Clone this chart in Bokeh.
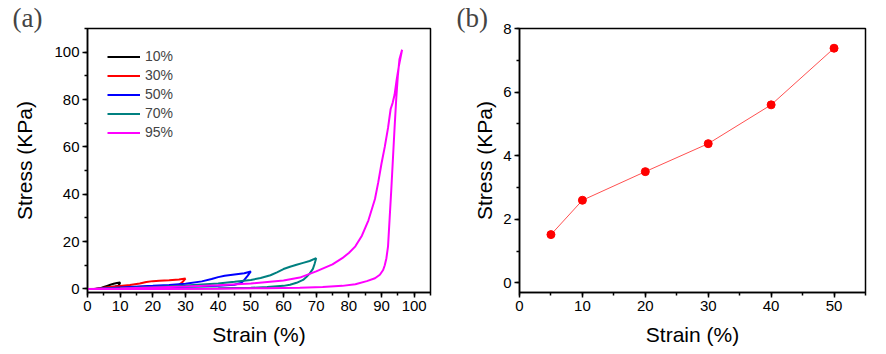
from bokeh.plotting import figure
from bokeh.layouts import row
from bokeh.models import SingleIntervalTicker, Range1d, Legend, LegendItem
from bokeh.embed import file_html
from bokeh.resources import INLINE

# ---- Panel (a): hysteresis loops ----
s10_x = [2.5, 4, 5, 6, 7, 8, 9, 10, 9.7, 9.3, 8.5, 7.5, 6.5, 5.5, 4.5, 3.5, 2.5]
s10_y = [0, 0.3, 0.8, 1.3, 1.8, 2.2, 2.5, 2.7, 1.8, 1.3, 1.0, 0.8, 0.6, 0.4, 0.25, 0.1, 0]

s30_x = [2, 5, 10, 13, 16, 18, 20, 22, 25, 28, 30, 29, 28, 25, 20, 15, 10, 5, 2]
s30_y = [0, 0.5, 1.3, 1.7, 2.3, 2.9, 3.3, 3.5, 3.7, 4.0, 4.4, 2.8, 1.8, 1.4, 1.1, 0.8, 0.5, 0.2, 0]

s50_x = [2, 10, 20, 25, 30, 35, 38, 40, 42, 45, 48, 50, 49, 48, 47, 45, 40, 30, 20, 10, 2]
s50_y = [0, 0.6, 1.3, 1.7, 2.2, 3.2, 4.2, 5.0, 5.6, 6.1, 6.6, 7.4, 5.5, 3.8, 2.5, 1.8, 1.3, 0.9, 0.5, 0.2, 0]

s70_x = [2, 10, 20, 30, 40, 45, 50, 53, 56, 58, 60, 62, 64, 66, 68, 70,
         69.5, 69, 68, 67, 66, 64, 62, 60, 55, 50, 40, 30, 20, 10, 2]
s70_y = [0, 0.3, 0.8, 1.5, 2.3, 3.0, 3.8, 4.6, 5.8, 7.0, 8.4, 9.4, 10.2, 11.0, 11.8, 13.0,
         10.5, 8.5, 6.5, 5.0, 3.8, 2.6, 1.8, 1.3, 0.8, 0.5, 0.3, 0.15, 0.05, 0, 0]

s95_x = [0, 10, 20, 30, 40, 50, 60, 65, 70, 75, 78, 80, 82, 84, 86, 88, 89, 90, 91, 92,
         92.8, 93.4, 94, 94.6, 95.3, 96.3,
         95.5, 95, 94.5, 94, 93.5, 93, 92.5, 92, 91.5, 91, 90.5, 89.5, 88, 85.5, 82, 78,
         72, 65, 55, 40, 20, 0]
s95_y = [0, 0.2, 0.6, 1.0, 1.6, 2.3, 3.6, 4.8, 7.4, 10.4, 13.0, 15.2, 18.0, 22.5, 29, 38,
         45, 53, 60, 68, 76, 78.5, 82, 88, 94, 101,
         97, 90, 80, 68, 55, 42, 30, 18, 13, 10, 8, 6, 4.5, 3.3, 2.0, 1.3,
         0.8, 0.5, 0.3, 0.1, 0.0, 0]

series_names = ["10%", "30%", "50%", "70%", "95%"]
series_colors = ["#000000", "#ff0000", "#0000ff", "#008080", "#ff00ff"]

# ---- Panel (b) ----
b_strain = [5, 10, 20, 30, 40, 50]
b_stress = [1.52, 2.6, 3.5, 4.38, 5.6, 7.38]

FONT = "Liberation Sans"


def style(p, xint, yint, ylabel_standoff):
    p.outline_line_color = "black"
    p.outline_line_width = 1.5
    p.xgrid.visible = False
    p.ygrid.visible = False
    p.background_fill_color = "white"
    p.border_fill_color = "white"
    p.xaxis.ticker = SingleIntervalTicker(interval=xint, num_minor_ticks=2)
    p.yaxis.ticker = SingleIntervalTicker(interval=yint, num_minor_ticks=2)
    for ax in (p.xaxis[0], p.yaxis[0]):
        ax.axis_line_width = 1.5
        ax.major_tick_line_width = 1.5
        ax.minor_tick_line_width = 1.5
        ax.major_tick_out = 5
        ax.major_tick_in = 0
        ax.minor_tick_out = 3
        ax.minor_tick_in = 0
        ax.major_label_text_font = FONT
        ax.major_label_text_font_size = "15px"
        ax.major_label_text_color = "black"
        ax.axis_label_text_font = FONT
        ax.axis_label_text_font_size = "21px"
        ax.axis_label_text_font_style = "normal"
        ax.axis_label_text_color = "black"
    p.xaxis.major_label_standoff = 3
    p.yaxis.major_label_standoff = 3
    p.xaxis.axis_label_standoff = 9
    p.yaxis.axis_label_standoff = ylabel_standoff
    p.title.text_font = "Liberation Serif"
    p.title.text_font_size = "27px"
    p.title.text_font_style = "normal"
    p.title.align = "left"
    p.title.standoff = -9
    p.title.text_line_height = 1.0


pa = figure(width=440, height=354, output_backend="svg", toolbar_location=None,
            x_range=Range1d(0, 105), y_range=Range1d(-1.5, 110),
            min_border_left=87, min_border_right=10, min_border_top=28, min_border_bottom=62,
            x_axis_label="Strain (%)", y_axis_label="Stress (KPa)", title="(a)")
style(pa, 10, 20, 15)
pa.title.offset = -75

xs_list = [s10_x, s30_x, s50_x, s70_x, s95_x]
ys_list = [s10_y, s30_y, s50_y, s70_y, s95_y]
items = []
for xs, ys, name, col in zip(xs_list, ys_list, series_names, series_colors):
    r = pa.line(xs, ys, line_color=col, line_width=2)
    items.append(LegendItem(label=name, renderers=[r]))

leg = Legend(items=items, location="top_left", margin=20, padding=0,
             glyph_width=33, glyph_height=15, label_height=15, spacing=3,
             label_standoff=5, label_text_font=FONT, label_text_font_size="14px",
             border_line_color=None, background_fill_alpha=0)
pa.add_layout(leg)

pb = figure(width=446, height=354, output_backend="svg", toolbar_location=None,
            x_range=Range1d(0, 55), y_range=Range1d(-0.3, 8),
            min_border_left=79, min_border_right=21, min_border_top=28, min_border_bottom=62,
            x_axis_label="Strain (%)", y_axis_label="Stress (KPa)", title="(b)")
style(pb, 10, 2, 4)
pb.title.offset = -63
pb.line(b_strain, b_stress, line_color="#ff5050", line_width=1)
pb.scatter(b_strain, b_stress, size=8, fill_color="#ff0000", line_color="#ff0000")

layout = row(pa, pb)
open("out.html", "w").write(file_html(layout, INLINE))
